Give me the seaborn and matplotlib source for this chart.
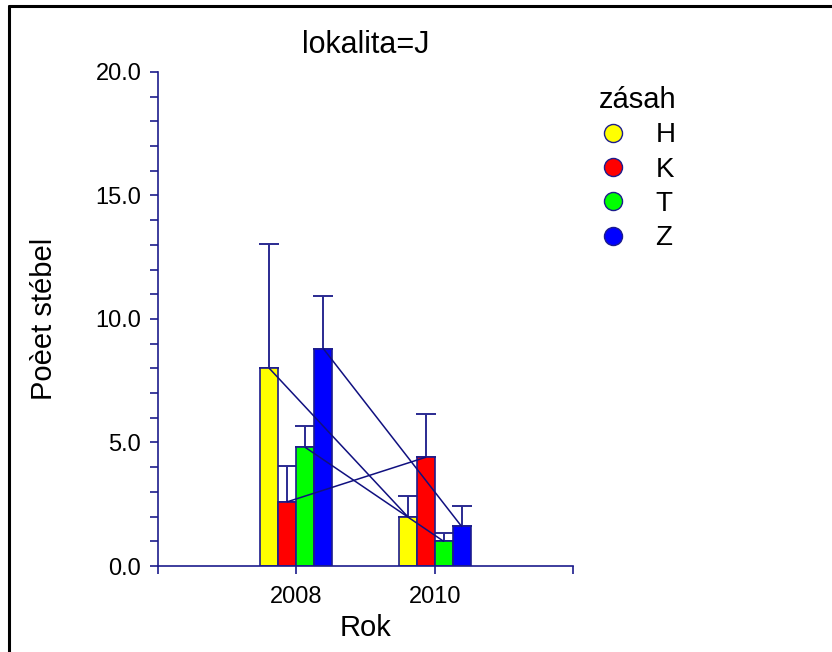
import matplotlib
matplotlib.use("Agg")
import matplotlib.pyplot as plt
import seaborn as sns
import pandas as pd
from matplotlib.lines import Line2D
from matplotlib.ticker import MultipleLocator, FormatStrFormatter

# ---- data ----
years = ["2008", "2010"]
groups = ["H", "K", "T", "Z"]
means_2008 = [8.0, 2.6, 4.8, 8.8]
means_2010 = [2.0, 4.4, 1.0, 1.6]
err_2008 = [5.05, 1.45, 0.87, 2.15]
err_2010 = [0.83, 1.77, 0.33, 0.81]
colors = ["#FFFF00", "#FF0000", "#00FF00", "#0000FF"]
title = "lokalita=J"
xlabel = "Rok"
ylabel = "Poèet stébel"
legend_title = "zásah"

rows = []
for g, m8, m10, e8, e10 in zip(groups, means_2008, means_2010, err_2008, err_2010):
    rows.append({"Rok": years[0], "zasah": g, "mean": m8, "err": e8})
    rows.append({"Rok": years[1], "zasah": g, "mean": m10, "err": e10})
df = pd.DataFrame(rows)

sns.set_style("white")
plt.rcParams["font.family"] = ["Liberation Sans", "DejaVu Sans"]
plt.rcParams["text.color"] = "black"
plt.rcParams["axes.labelcolor"] = "black"

navy = "#1c1c8c"
line_navy = "#101080"

fig = plt.figure(figsize=(8.32, 6.52), dpi=100)
ax = fig.add_axes([0.1899, 0.1319, 0.4988, 0.7577])

sns.barplot(data=df, x="Rok", y="mean", hue="zasah", order=years,
            hue_order=groups, palette=colors, width=0.52, errorbar=None,
            saturation=1, edgecolor=navy, linewidth=1.2, ax=ax, legend=False,
            zorder=2)

bar_containers = list(ax.containers)

# bar centres / heights from the library's containers
for cont, g in zip(bar_containers, groups):
    xs = [b.get_x() + b.get_width() / 2 for b in cont]
    hs = [b.get_height() for b in cont]
    errs = df[df["zasah"] == g].set_index("Rok").loc[years, "err"].values
    ax.errorbar(xs, hs, yerr=[[0] * len(errs), errs], fmt="none",
                ecolor="#2a2a90", elinewidth=1.4, capsize=7.5, capthick=1.4,
                zorder=1)
for cont in bar_containers:
    xs = [b.get_x() + b.get_width() / 2 for b in cont]
    hs = [b.get_height() for b in cont]
    ax.plot(xs, hs, color=line_navy, lw=1.1, zorder=4)

ax.set_xlim(-1, 2)
ax.set_xticks([-1, 0, 1, 2])
ax.set_xticklabels(["", years[0], years[1], ""])
ax.set_ylim(0, 20)
ax.yaxis.set_major_locator(MultipleLocator(5))
ax.yaxis.set_minor_locator(MultipleLocator(1))
ax.yaxis.set_major_formatter(FormatStrFormatter("%.1f"))

for s in ["top", "right"]:
    ax.spines[s].set_visible(False)
for s in ["left", "bottom"]:
    ax.spines[s].set_color(navy)
    ax.spines[s].set_linewidth(1.2)

ax.tick_params(axis="both", which="both", direction="out", color=navy,
               width=1.2, labelsize=17, labelcolor="black")
ax.tick_params(axis="y", which="both", length=6, pad=6, left=True)
ax.tick_params(axis="x", which="major", length=5.5, pad=9, bottom=True)

ax.set_xlabel(xlabel, fontsize=21, labelpad=4, color="black")
ax.set_ylabel(ylabel, fontsize=21, labelpad=27, color="black")
ax.set_title(title, fontsize=22, pad=14, color="black")

handles = [Line2D([], [], marker="o", linestyle="none", markersize=13,
                  markerfacecolor=c, markeredgecolor=navy, markeredgewidth=1)
           for c in colors]
leg = fig.legend(handles, groups, title=legend_title, loc="upper left",
                 bbox_to_anchor=(0.7195, 0.868), frameon=False, fontsize=20,
                 title_fontsize=21, alignment="left", handlelength=1.0,
                 handletextpad=1.05, labelspacing=0.3, borderaxespad=0,
                 borderpad=0, labelcolor="black")
leg.get_title().set_color("black")

# partial frame (top and left edges as in reference)
fig.add_artist(Line2D([0.011, 1.0], [0.9915, 0.9915], transform=fig.transFigure,
                      color="black", lw=2.2))
fig.add_artist(Line2D([0.011, 0.011], [0.0, 0.9915], transform=fig.transFigure,
                      color="black", lw=2.2))

fig.savefig("out.png", dpi=100)
